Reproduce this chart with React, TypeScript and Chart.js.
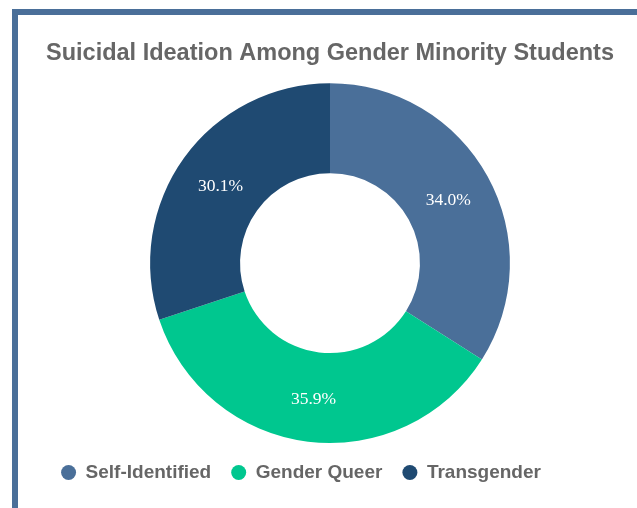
import React, { useEffect, useRef } from "react";
import { Chart, registerables } from "chart.js";

Chart.register(...registerables);

const categories = ["Self-Identified", "Gender Queer", "Transgender"];
const values = [34.0, 35.9, 30.1];
const colors = ["#4a6f99", "#00c78f", "#1f4a72"];
const titleText = "Suicidal Ideation Among Gender Minority Students";

const arcLabels = {
  id: "arcLabels",
  afterDatasetsDraw(chart: any) {
    const ctx = chart.ctx;
    const meta = chart.getDatasetMeta(0);
    const data = chart.data.datasets[0].data as number[];
    ctx.save();
    ctx.fillStyle = "#ffffff";
    ctx.font = "17.5px 'Liberation Serif', 'Times New Roman', serif";
    ctx.textAlign = "center";
    ctx.textBaseline = "middle";
    meta.data.forEach((arc: any, i: number) => {
      const p = arc.getCenterPoint();
      ctx.fillText(data[i].toFixed(1) + "%", p.x, p.y + 2);
    });
    ctx.restore();
  },
};

// the reference legend sits a little left of centre
const legendShift = {
  id: "legendShift",
  afterLayout(chart: any) {
    const lg = chart.legend;
    if (lg && lg.lineWidths && lg.lineWidths.length) {
      lg.lineWidths[0] += 58;
    }
  },
};

export default function App() {
  const ref = useRef<HTMLCanvasElement | null>(null);
  useEffect(() => {
    if (!ref.current) return;
    const chart = new Chart(ref.current, {
      type: "doughnut",
      data: {
        labels: categories,
        datasets: [
          {
            data: values,
            backgroundColor: colors,
            borderWidth: 0,
          },
        ],
      },
      options: {
        animation: false,
        responsive: false,
        maintainAspectRatio: false,
        cutout: "50%",
        layout: { padding: { top: 14, bottom: 16, left: 0, right: 0 } },
        plugins: {
          title: {
            display: true,
            text: titleText,
            color: "#666666",
            font: { family: "'Liberation Sans', Arial, sans-serif", size: 23.5, weight: "bold" },
            padding: { top: 10, bottom: 16 },
          },
          legend: {
            position: "bottom",
            labels: {
              usePointStyle: true,
              pointStyle: "circle",
              pointStyleWidth: 15,
              boxWidth: 15,
              boxHeight: 10.6,
              padding: 20,
              color: "#666666",
              font: { family: "'Liberation Sans', Arial, sans-serif", size: 19, weight: "bold" },
            },
          },
          tooltip: { enabled: false },
        },
      },
      plugins: [arcLabels, legendShift],
    });
    return () => chart.destroy();
  }, []);
  return (
    <div style={{ position: "fixed", inset: 0, overflow: "hidden", background: "#fff" }}>
      <div
        style={{
          position: "absolute",
          left: 12,
          top: 9,
          borderTop: "6px solid #4a6f99",
          borderLeft: "6px solid #4a6f99",
          width: 624,
          height: 493,
        }}
      >
        <canvas ref={ref} width={624} height={493} style={{ display: "block" }} />
      </div>
    </div>
  );
}
